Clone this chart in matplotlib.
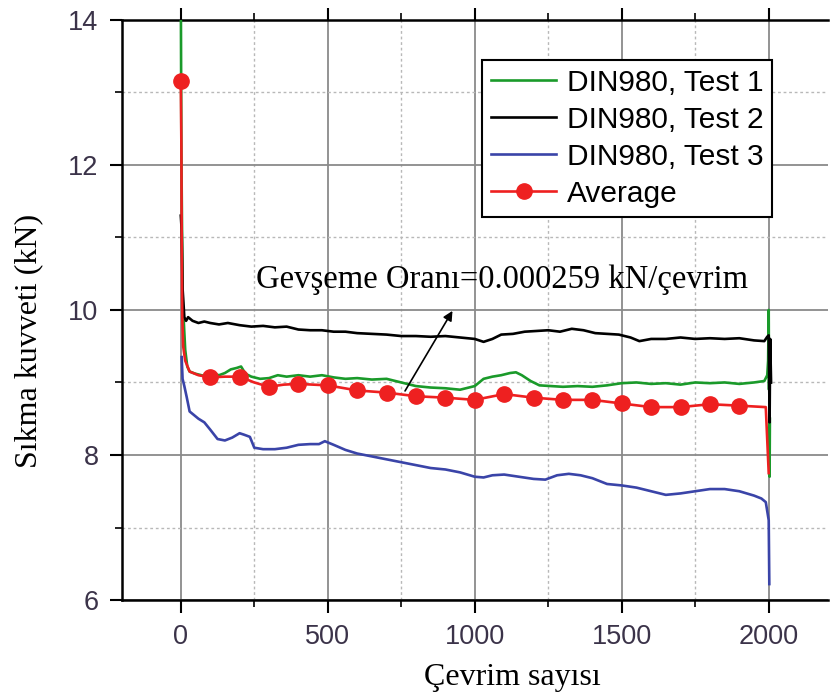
import matplotlib
matplotlib.use("Agg")
import matplotlib.pyplot as plt
from matplotlib.ticker import MultipleLocator

# Test 1 (green)
test1_cycles = [0, 2, 4, 7, 10, 15, 22, 30, 50, 70, 90, 110, 130, 150, 170, 190, 205, 220, 240,
                270, 300, 330, 360, 400, 440, 480, 520, 560, 600, 650, 700, 750, 800, 850, 900,
                950, 1000, 1030, 1060, 1090, 1120, 1140, 1160, 1190, 1220, 1260, 1300, 1350,
                1400, 1450, 1500, 1550, 1600, 1650, 1700, 1750, 1800, 1850, 1900, 1950, 1985,
                1995, 1998, 2000, 2001, 2002, 2003, 2004]
test1_force = [14.5, 12.2, 11.2, 9.95, 9.85, 9.45, 9.22, 9.15, 9.12, 9.1, 9.08, 9.12, 9.1, 9.13,
               9.18, 9.2, 9.22, 9.12, 9.08, 9.05, 9.06, 9.1, 9.08, 9.1, 9.08, 9.1, 9.07, 9.05,
               9.06, 9.04, 9.05, 9.0, 8.95, 8.93, 8.92, 8.9, 8.95, 9.05, 9.08, 9.1, 9.13, 9.14,
               9.1, 9.02, 8.96, 8.95, 8.94, 8.95, 8.94, 8.96, 8.99, 9.0, 8.98, 8.99, 8.97, 9.0,
               8.99, 9.0, 8.98, 9.0, 9.02, 9.1, 9.3, 10.0, 8.9, 9.6, 7.7, 8.5]

# Test 2 (black)
test2_cycles = [0, 3, 6, 9, 12, 18, 25, 40, 60, 80, 100, 130, 160, 200, 240, 280, 320, 360, 400,
                440, 480, 520, 560, 600, 650, 700, 750, 800, 850, 900, 950, 1000, 1030, 1060,
                1090, 1130, 1170, 1210, 1250, 1290, 1330, 1370, 1410, 1450, 1490, 1530, 1560,
                1600, 1650, 1700, 1750, 1800, 1850, 1900, 1950, 1985, 1995, 2000, 2003, 2005, 2008]
test2_force = [11.3, 11.1, 10.3, 10.1, 9.9, 9.85, 9.9, 9.85, 9.82, 9.84, 9.82, 9.8, 9.82, 9.79,
               9.77, 9.78, 9.76, 9.77, 9.73, 9.72, 9.72, 9.7, 9.7, 9.68, 9.67, 9.66, 9.64, 9.64,
               9.63, 9.64, 9.62, 9.6, 9.56, 9.6, 9.66, 9.67, 9.7, 9.71, 9.72, 9.7, 9.74, 9.72,
               9.68, 9.67, 9.66, 9.62, 9.57, 9.6, 9.6, 9.62, 9.6, 9.61, 9.6, 9.61, 9.58, 9.57,
               9.63, 9.65, 8.45, 9.6, 9.0]

# Test 3 (blue)
test3_cycles = [3, 6, 12, 20, 30, 45, 60, 80, 100, 125, 150, 175, 200, 215, 235, 250, 280, 320,
                360, 400, 440, 470, 490, 520, 560, 600, 650, 700, 750, 800, 850, 900, 950, 1000,
                1030, 1060, 1100, 1150, 1200, 1240, 1280, 1320, 1360, 1400, 1450, 1500, 1550,
                1600, 1650, 1700, 1750, 1800, 1850, 1900, 1950, 1975, 1990, 2000, 2002]
test3_force = [9.35, 9.05, 8.95, 8.8, 8.6, 8.55, 8.5, 8.45, 8.35, 8.22, 8.2, 8.24, 8.3, 8.28,
               8.25, 8.1, 8.08, 8.08, 8.1, 8.14, 8.15, 8.15, 8.19, 8.14, 8.07, 8.02, 7.98, 7.94,
               7.9, 7.86, 7.82, 7.8, 7.76, 7.7, 7.69, 7.72, 7.73, 7.7, 7.67, 7.66, 7.72, 7.74,
               7.72, 7.68, 7.6, 7.58, 7.55, 7.5, 7.45, 7.47, 7.5, 7.53, 7.53, 7.5, 7.44, 7.4,
               7.35, 7.1, 6.22]

# Average (red, markers every 100 cycles)
avg_cycles = [0, 2, 3, 5, 8, 15, 30, 60, 100, 150, 200, 250, 300, 350, 400, 450, 500, 600, 700,
              800, 900, 1000, 1100, 1200, 1300, 1400, 1500, 1600, 1700, 1800, 1900, 1990, 2000]
avg_force = [13.15, 12.25, 11.0, 9.9, 9.5, 9.3, 9.15, 9.1, 9.07, 9.08, 9.08, 9.0, 8.94, 8.97,
             8.98, 8.97, 8.96, 8.89, 8.86, 8.81, 8.79, 8.76, 8.84, 8.79, 8.76, 8.76, 8.71, 8.66,
             8.66, 8.7, 8.68, 8.66, 7.75]

rate_text = "Gevşeme Oranı=0.000259 kN/çevrim"

tick_color = "#3b3349"
sans = "Liberation Sans"
serif = "Liberation Serif"

fig = plt.figure(figsize=(8.3, 6.99), dpi=100)
ax = fig.add_axes([0.147, 0.1416, 0.85, 0.83])

ax.plot(test1_cycles, test1_force, color="#1a9a2a", lw=1.9, label="DIN980, Test 1", zorder=3)
ax.plot(test2_cycles, test2_force, color="black", lw=1.9, label="DIN980, Test 2", zorder=3)
ax.plot(test3_cycles, test3_force, color="#3a44a8", lw=1.9, label="DIN980, Test 3", zorder=3)
marks = [i for i, c in enumerate(avg_cycles) if c % 100 == 0 and c < 2000]
ax.plot(avg_cycles, avg_force, color="#ee2020", lw=1.9, marker="o", markersize=11,
        markevery=marks, label="Average", zorder=4)

ax.set_xlim(-200, 2200)
ax.set_ylim(6, 14)
ax.xaxis.set_major_locator(MultipleLocator(500))
ax.xaxis.set_minor_locator(MultipleLocator(250))
ax.yaxis.set_major_locator(MultipleLocator(2))
ax.yaxis.set_minor_locator(MultipleLocator(1))

ax.grid(which="major", color="#8a8a8a", lw=1.3, ls="-", zorder=0)
ax.grid(which="minor", color="#b8b8b8", lw=1.0, ls=(0, (2, 2)), zorder=0)
ax.set_axisbelow(True)

for s in ["left", "bottom", "top"]:
    ax.spines[s].set_linewidth(1.8)
ax.spines["right"].set_visible(False)

ax.tick_params(which="major", direction="out", length=9, width=1.5, labelsize=19.5,
               labelcolor=tick_color, pad=8)
ax.tick_params(which="minor", direction="out", length=5, width=1.2)
ax.tick_params(axis="x", which="both", top=True)
for lab in ax.get_xticklabels() + ax.get_yticklabels():
    lab.set_fontfamily(sans)

ax.set_xlabel("Çevrim sayısı", fontfamily=serif, fontsize=23)
ax.set_ylabel("Sıkma kuvveti (kN)", fontfamily=serif, fontsize=23)
ax.xaxis.set_label_coords(0.553, -0.108)
ax.yaxis.set_label_coords(-0.112, 0.446)

ax.annotate("", xy=(929, 10.02), xytext=(758, 8.85),
            arrowprops=dict(arrowstyle="-|>", color="black", lw=1.2, mutation_scale=14), zorder=5)
ax.text(255, 10.42, rate_text, fontfamily=serif, fontsize=23.5, ha="left", va="center", zorder=5)

leg = ax.legend(loc="upper right", bbox_to_anchor=(0.922, 0.931), prop={"family": sans, "size": 21.5},
                frameon=True, fancybox=False, edgecolor="black", framealpha=1,
                handlelength=2.2, handletextpad=0.35, labelspacing=0.3, borderpad=0.3,
                borderaxespad=0)
leg.get_frame().set_linewidth(1.5)

fig.savefig("out.png", dpi=100)
